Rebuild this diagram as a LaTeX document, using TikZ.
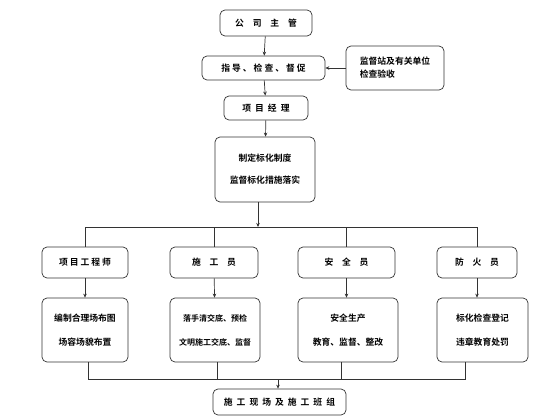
\documentclass[tikz,border=0pt]{standalone}
\usepackage{fontspec}
\newfontfamily\cjk{Noto Sans CJK SC}[BoldFont={Noto Sans CJK SC Bold}]
\usetikzlibrary{arrows.meta}
\begin{document}
\begin{tikzpicture}[x=1pt,y=-1pt,
  box/.style={draw=black!80,rounded corners=5pt,line width=0.7pt,inner sep=0pt,font=\cjk\bfseries\fontsize{8.8}{10}\selectfont,align=center},
  small/.style={font=\cjk\bfseries\fontsize{8}{10}\selectfont},
  conn/.style={draw=black!80,line width=0.7pt},
  arr/.style={conn,-{Stealth[length=4pt,width=3.5pt]}}]
\useasboundingbox[fill=white] (0,0) rectangle (560,420);
\node[box,minimum width=92,minimum height=26] (gs) at (266,23) {公\quad 司\quad 主\quad 管};
\node[box,minimum width=123,minimum height=24] (zd) at (263.5,68) {指\ 导\ 、\ 检\ 查\ 、\ 督\ 促};
\node[box,minimum width=98,minimum height=44,align=left] (jd) at (395,68) {监督站及有关单位\\[3pt]检查验收};
\node[box,minimum width=84,minimum height=24] (xm) at (266,108) {项\ \ 目\ \ 经\ \ 理};
\node[box,minimum width=100,minimum height=65] (zh) at (265,169.5) {制定标化制度\\[12pt]监督标化措施落实};
\coordinate (hub) at (258,227);
\node[box,minimum width=86,minimum height=31] (a1) at (85,262.5) {项\ 目\ 工\ 程\ 师};
\node[box,minimum width=88,minimum height=31] (a2) at (214,262.5) {施\quad 工\quad 员};
\node[box,minimum width=97,minimum height=31] (a3) at (346.5,262.5) {安\quad 全\quad 员};
\node[box,minimum width=80,minimum height=31] (a4) at (477,262.5) {防\quad 火\quad 员};
\node[box,minimum width=86,minimum height=64] (b1) at (85,330) {编制合理场布图\\[14pt]场容场貌布置};
\node[box,small,minimum width=90,minimum height=64] (b2) at (215,330) {落手清交底、预检\\[14pt]文明施工交底、监督};
\node[box,minimum width=100,minimum height=64] (b3) at (348,330) {安全生产\\[14pt]教育、监督、整改};
\node[box,minimum width=91,minimum height=64] (b4) at (482.5,330) {标化检查登记\\[14pt]违章教育处罚};
\node[box,minimum width=133,minimum height=26] (sg) at (279.5,402) {施\ \ 工\ \ 现\ \ 场\ \ 及\ \ 施\ \ 工\ \ 班\ \ 组};
\draw[arr] (gs) -- (zd);
\draw[arr] (jd.west) -- (zd.east);
\draw[arr] (zd) -- (xm);
\draw[arr] (xm) -- (zh);
\draw[arr] (zh.south -| hub) -- (hub);
\draw[conn] (85,227) -- (477,227);
\foreach \n in {a1,a2,a3,a4}{
  \draw[conn] (\n.north |- hub) -- (\n.north);
}
\draw[arr] (a1) -- (b1);
\draw[arr] (a2) -- (b2);
\draw[arr] (a3.south -| 346.5,0) -- (b3.north -| 346.5,0);
\draw[arr] (a4.south -| 477,0) -- (b4.north -| 477,0);
\coordinate (bl) at (278,379);
\draw[conn] (b1.south -| 88,0) -- (88,379) -- (465,379) -- (b4.south -| 465,0);
\draw[conn] (b2.south -| 217,0) -- (217,379);
\draw[conn] (b3.south -| 341,0) -- (341,379);
\draw[arr] (bl) -- (sg.north -| bl);
\end{tikzpicture}
\end{document}
